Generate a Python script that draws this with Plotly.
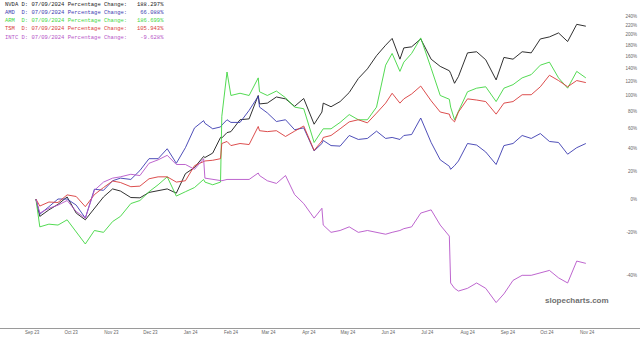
import plotly.graph_objects as go

dates = [
    "2023-09-18", "2023-09-21", "2023-09-28", "2023-10-05", "2023-10-12",
    "2023-10-19", "2023-10-26", "2023-11-02", "2023-11-09", "2023-11-16", "2023-11-22",
    "2023-11-30", "2023-12-07", "2023-12-14", "2023-12-21", "2023-12-28", "2024-01-04",
    "2024-01-11", "2024-01-18", "2024-01-25", "2024-01-26", "2024-02-01", "2024-02-07",
    "2024-02-08", "2024-02-12", "2024-02-15", "2024-02-22", "2024-02-29", "2024-03-07",
    "2024-03-08", "2024-03-14", "2024-03-21", "2024-03-28", "2024-04-04", "2024-04-11",
    "2024-04-19", "2024-04-25", "2024-04-26", "2024-05-02", "2024-05-09", "2024-05-16",
    "2024-05-23", "2024-05-30", "2024-06-06", "2024-06-13", "2024-06-18", "2024-06-24",
    "2024-06-27", "2024-07-03", "2024-07-10", "2024-07-18", "2024-07-25", "2024-08-01",
    "2024-08-02", "2024-08-05", "2024-08-08", "2024-08-15", "2024-08-22", "2024-08-29",
    "2024-09-06", "2024-09-12", "2024-09-19", "2024-09-26", "2024-10-03", "2024-10-10",
    "2024-10-17", "2024-10-24", "2024-10-31", "2024-11-07", "2024-11-14",
]

nvda = [0, -11, -7, -3.5, 1.4, -9, -13, -6, 1.4, 7, 5.5, 1, 0.8, 4.5, 5.8, 7, 4,
        18.5, 23.5, 33, 32, 36, 51, 50.5, 56, 57, 70, 71, 100, 89, 90, 98, 95.5, 86, 96,
        65, 79, 90, 85.5, 92, 104, 124, 139, 161, 180, 193, 155, 175, 177, 192, 155, 143,
        136, 132, 117, 127, 166, 168, 154, 122, 158, 155, 168, 166, 192, 196, 204, 187, 222, 218]

amd = [0, -9.7, -5, 0, 0, -4, -12, 6.8, 6, 13, 15, 14, 21, 31, 31, 40, 27, 41, 61,
       69, 66, 60, 62, 64, 70, 67, 67, 81, 99, 85, 78, 68, 70, 59, 61, 38, 45, 48, 43,
       42.5, 53, 49, 50, 57.5, 50, 51, 49, 53, 54, 72, 46, 30, 24.5, 22, 25, 29, 45, 43.5,
       37, 26, 43, 45, 53, 50, 55, 47, 46, 35, 41, 45]

arm = [0, -17, -15.5, -16, -13, -20, -26, -19, -20, -14, -11, -3, -1, 5, 10, 16, 2,
       5, 8, 14, 12, 10, 12, 74, 134, 100, 103, 100, 125, 105, 100, 106, 97, 85, 83, 46,
       57, 60, 60, 67, 76, 70, 70, 85, 145, 165, 135, 150, 165, 194, 140, 100, 95, 85, 70,
       80, 105, 110, 112, 92, 110, 115, 125, 130, 145, 150, 125, 110, 135, 125]

tsm = [0, -4.6, -2, -2.3, 2.8, 1.7, -5, 3, 8, 12.8, 11.7, 8.6, 9, 14.5, 16, 16, 12, 13,
       25, 28.5, 29, 29.6, 31, 45, 47, 43, 45, 44, 62.5, 58, 57, 58, 52, 57.5, 63, 38.5,
       47.5, 51, 53, 60, 67.6, 70, 66.5, 77.7, 90, 103, 90, 95.5, 102, 113, 93, 79, 76.5,
       72, 67.6, 79, 95.5, 94, 92, 76.5, 90, 92, 101, 101, 112, 129, 121, 112, 121, 118]

intc = [0, -9, -6, -4, -1, -8, -12, 6, 12, 15, 16, 18, 17, 27, 30, 34, 26, 26, 22, 31,
        15, 14, 13, 13, 14, 14, 14, 14, 19, 17, 13, 11, 17, 3, -3, -12, -6, -16, -20, -19,
        -17, -20, -19, -20, -21, -20, -19, -18, -17, -9, -7, -16, -22, -43, -45, -46, -45,
        -43, -45, -50, -47, -42, -40, -40, -39, -38, -41, -43, -34, -35]

names = ["NVDA", "AMD", "ARM", "TSM", "INTC"]
changes = ["188.297%", "66.088%", "186.699%", "105.943%", "-9.628%"]
colors = ["#1a1a1a", "#3b3bb0", "#3fd63f", "#d83a3a", "#b654c8"]
series = [nvda, amd, arm, tsm, intc]

tick_pcts = [-40, -20, 0, 20, 40, 60, 80, 100, 120, 140, 160, 180, 200, 220, 240]

fig = go.Figure()
for name, vals, col in zip(names, series, colors):
    fig.add_trace(go.Scatter(
        x=dates, y=[1 + v / 100 for v in vals], mode="lines", name=name,
        line=dict(color=col, width=0.9), showlegend=False,
    ))

for i, (name, chg, col) in enumerate(zip(names, changes, colors)):
    line = f"{name:<4} D: 07/09/2024 Percentage Change: {chg:>10}"
    line = line.replace(" ", "\u00a0")
    fig.add_annotation(
        xref="paper", yref="paper", x=3 / 640, y=1 - (4 + i * 8.3) / 328,
        xanchor="left", yanchor="middle", showarrow=False, text=line,
        font=dict(family="Liberation Mono", size=5.5, color=col),
    )

fig.add_annotation(
    xref="paper", yref="paper", x=577 / 640, y=1 - 300 / 328,
    xanchor="center", yanchor="middle", showarrow=False, text="<b>slopecharts.com</b>",
    font=dict(family="Liberation Sans", size=8, color="#707070"),
)

fig.update_xaxes(
    range=["2023-08-21 09:00", "2024-12-25 16:00"],
    tickformat="%b %y", dtick="M1", tick0="2023-09-15",
    showline=True, linecolor="#9a9a9a", linewidth=1,
    showgrid=False, zeroline=False, ticks="",
    tickfont=dict(family="Liberation Sans", size=4.5, color="#666666"),
)
fig.update_yaxes(
    type="log", range=[-0.375, 0.5786], side="right",
    tickvals=[1 + p / 100 for p in tick_pcts], ticktext=[f"{p}%" for p in tick_pcts],
    ticklabelposition="inside", showgrid=False, zeroline=False, showline=False, ticks="",
    tickfont=dict(family="Liberation Sans", size=4.5, color="#666666"),
)
fig.update_layout(
    width=640, height=342, margin=dict(l=0, r=0, t=0, b=14),
    paper_bgcolor="white", plot_bgcolor="white",
)
fig.write_html("out.html")
